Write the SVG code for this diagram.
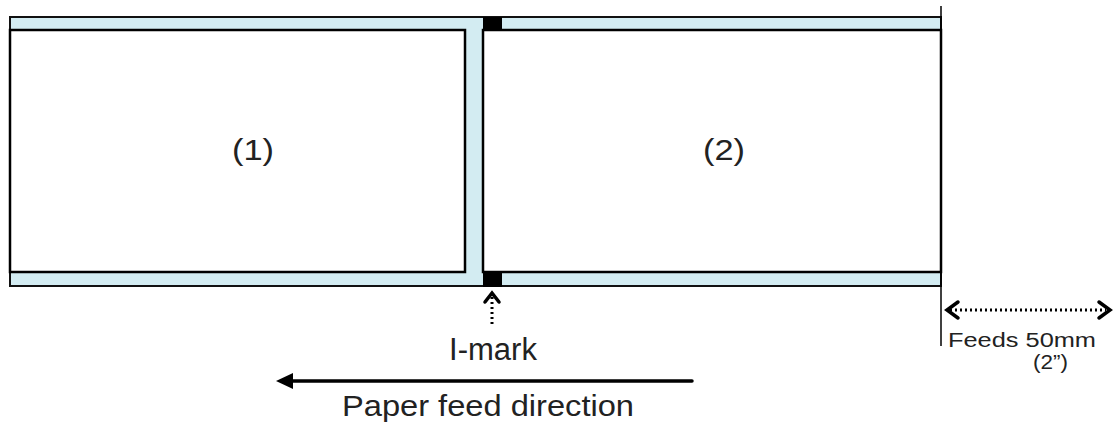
<svg xmlns="http://www.w3.org/2000/svg" width="1114" height="423" viewBox="0 0 1114 423">
<style>
.liner{fill:#d3ecf2;stroke:#111;stroke-width:2}
.label{fill:#fff;stroke:#000;stroke-width:2.5}
.mark{fill:#000}
.t{font-family:"Liberation Sans",Arial,sans-serif;fill:#222}
.dot{stroke:#000;stroke-width:3;stroke-dasharray:2 3;fill:none}
.chev{stroke:#000;stroke-width:3.5;fill:none;stroke-linecap:round;stroke-linejoin:miter}
</style>
<rect width="1114" height="423" fill="#fff"/>
<g id="liner">
<rect class="liner" x="10" y="17" width="931" height="269"/>
</g>
<g id="label1">
<rect class="label" x="10" y="30" width="455" height="242"/>
<text class="t" x="253" y="160" font-size="30" text-anchor="middle" textLength="42" lengthAdjust="spacingAndGlyphs">(1)</text>
</g>
<g id="label2">
<rect class="label" x="483" y="30" width="458" height="242"/>
<text class="t" x="724" y="160" font-size="30" text-anchor="middle" textLength="42" lengthAdjust="spacingAndGlyphs">(2)</text>
</g>
<g id="imarks">
<rect class="mark" x="483" y="17" width="19" height="13"/>
<rect class="mark" x="483" y="273" width="19" height="14"/>
</g>
<g id="connectors">
<line x1="941" y1="6" x2="941" y2="346" stroke="#000" stroke-width="1.5"/>
<line class="dot" x1="492" y1="297" x2="492" y2="324"/>
<polyline class="chev" points="485,302 492,293 499,302"/>
<line class="dot" x1="950" y1="310" x2="1106" y2="310"/>
<polyline class="chev" points="958,302 947,310 958,318"/>
<polyline class="chev" points="1099,302 1110,310 1099,318"/>
<line x1="288" y1="381" x2="692" y2="381" stroke="#000" stroke-width="3.5" stroke-linecap="round"/>
<polygon points="276,381 293,373 293,389" fill="#000"/>
</g>
<g id="texts">
<text class="t" x="493" y="360" font-size="31" text-anchor="middle">I-mark</text>
<text class="t" x="488" y="416" font-size="30" text-anchor="middle" textLength="292" lengthAdjust="spacingAndGlyphs">Paper feed direction</text>
<text class="t" x="948" y="347" font-size="20" textLength="148" lengthAdjust="spacingAndGlyphs">Feeds 50mm</text>
<text class="t" x="1033" y="369" font-size="21" textLength="35" lengthAdjust="spacingAndGlyphs">(2”)</text>
</g>
</svg>
